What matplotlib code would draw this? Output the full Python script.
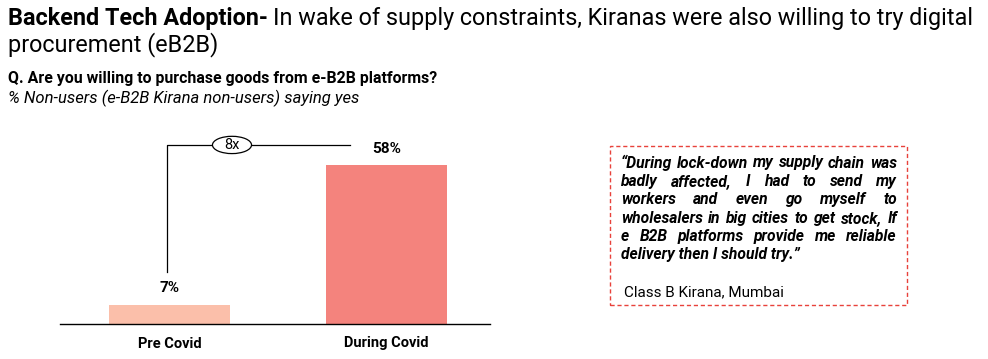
import matplotlib
matplotlib.use("Agg")
import matplotlib.pyplot as plt
from matplotlib import font_manager as fm
from matplotlib.patches import Rectangle, Ellipse


def roboto(fname):
    for f in fm.fontManager.ttflist:
        if f.fname.endswith('/' + fname):
            return f.fname
    return None


REG = fm.FontProperties(fname=roboto('Roboto-Regular.ttf'))
BOLD = fm.FontProperties(fname=roboto('Roboto-Bold.ttf'))
ITAL = fm.FontProperties(fname=roboto('Roboto-Italic.ttf'))
BITAL = fm.FontProperties(fname=roboto('Roboto-BoldItalic.ttf'))

categories = ['Pre Covid', 'During Covid']
values = [7, 58]
colors = ['#FBBFAA', '#F4837D']
growth_label = '8x'

quote_lines = [
    '\u201cDuring lock-down my supply chain was',
    'badly affected, I had to send my',
    'workers and even go myself to',
    'wholesalers in big cities to get stock, If',
    'e B2B platforms provide me reliable',
    'delivery then I should try.\u201d',
]
quote_source = 'Class B Kirana, Mumbai'

W, H = 988, 359
fig = plt.figure(figsize=(W / 100, H / 100), dpi=100)
fig.canvas.draw()
r = fig.canvas.get_renderer()

# title block
t0 = fig.text(8 / W, 1 - 18 / H, 'Backend Tech Adoption-', fontproperties=BOLD, fontsize=16.8, va='center')
x_end = t0.get_window_extent(r).x1
fig.text(x_end / W + 5 / W, 1 - 18 / H, 'In wake of supply constraints, Kiranas were also willing to try digital',
         fontproperties=REG, fontsize=16.8, va='center')
fig.text(8 / W, 1 - 45 / H, 'procurement (eB2B)', fontproperties=REG, fontsize=16.8, va='center')
fig.text(8 / W, 1 - 78 / H, 'Q. Are you willing to purchase goods from e-B2B platforms?',
         fontproperties=BOLD, fontsize=11.4, va='center')
fig.text(8 / W, 1 - 98 / H, '% Non-users (e-B2B Kirana non-users) saying yes',
         fontproperties=ITAL, fontsize=12, va='center')

# bar chart
ax = fig.add_axes([60 / W, 1 - 324 / H, 430 / W, 204 / H])
x = range(len(categories))
ax.bar(x, values, width=0.557, color=colors)
ax.set_xlim(-0.5046, 1.477)
ax.set_ylim(0, 74.4)
for s in ['top', 'right', 'left']:
    ax.spines[s].set_visible(False)
ax.spines['bottom'].set_linewidth(1)
ax.set_yticks([])
ax.set_xticks(list(x))
ax.set_xticklabels(categories, fontproperties=BOLD, fontsize=10.5)
ax.tick_params(axis='x', length=0, pad=9)
for i, v in enumerate(values):
    ax.text(i, v + 6, f'{v}%', ha='center', va='center', fontproperties=BOLD, fontsize=11)

# bracket showing growth
ax.plot([-0.012, -0.012, 0.832], [19, 65.3, 65.3], color='black', lw=0.9, clip_on=False)
ax.add_patch(Ellipse((0.288, 65.3), 0.18, 6.3, fc='white', ec='black', lw=0.9, clip_on=False, zorder=3))
ax.text(0.288, 65.3, growth_label, ha='center', va='center', fontproperties=REG, fontsize=10.5, zorder=4)

# quote box
fig.patches.append(Rectangle((610 / W, 1 - 305 / H), 297 / W, 159 / H, transform=fig.transFigure,
                             fill=False, ec='#E8423B', lw=1, ls=(0, (3, 2))))
left, right = 621, 897
fs = 11.25
for k, line in enumerate(quote_lines):
    y = 1 - (163 + k * 18.4) / H
    words = line.split(' ')
    if k == len(quote_lines) - 1:
        fig.text(left / W, y, line, fontproperties=BITAL, fontsize=fs, va='center')
        continue
    objs = [fig.text(0, y, w, fontproperties=BITAL, fontsize=fs, va='center') for w in words]
    widths = [o.get_window_extent(r).width for o in objs]
    gap = (right - left - sum(widths)) / (len(words) - 1)
    xp = left
    for o, wd in zip(objs, widths):
        o.set_x(xp / W)
        xp += wd + gap
fig.text(624 / W, 1 - 292 / H, quote_source, fontproperties=REG, fontsize=11, va='center')

fig.savefig('out.png', dpi=100)
